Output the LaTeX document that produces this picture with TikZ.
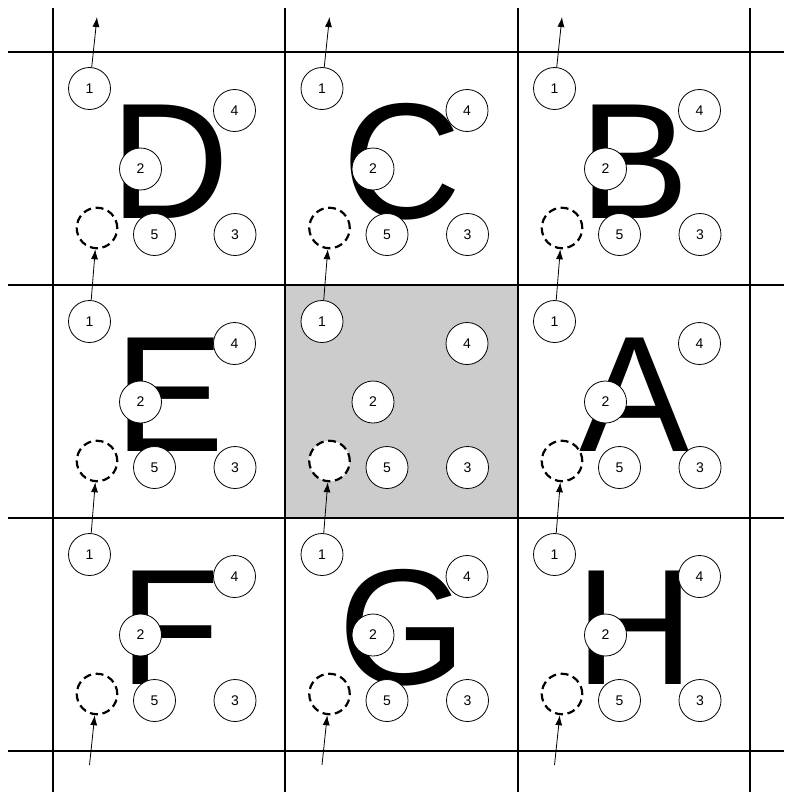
\documentclass[tikz,border=0pt]{standalone}
\usepackage{fontspec}
\setmainfont{Liberation Sans}
\usetikzlibrary{arrows.meta}
\begin{document}
\begin{tikzpicture}[x=1pt,y=-1pt,
  gridline/.style={line width=2pt},
  num/.style={circle, draw, fill=white, line width=0.8pt, minimum size=42pt, inner sep=0pt, font=\fontsize{14}{14}\selectfont},
  ghost/.style={circle, draw, fill=white, dash pattern=on 8pt off 4.6pt, line width=2.2pt, minimum size=40.5pt, inner sep=0pt},
  big/.style={anchor=base, inner sep=0pt, font=\fontsize{165}{165}\selectfont},
  link/.style={-{Latex[length=10pt,width=7pt]}, line width=0.8pt}]
\useasboundingbox (0,0) rectangle (784,792);
\fill[black!20] (285,285) rectangle (518,518);
\foreach \x in {53,285,518,750} \draw[gridline] (\x,8) -- (\x,792);
\foreach \y in {52,285,518,751} \draw[gridline] (8,\y) -- (784,\y);
% letters
\foreach \col/\row/\L in {0/0/D,1/0/C,2/0/B,0/1/E,2/1/A,0/2/F,1/2/G,2/2/H} {
  \pgfmathsetmacro\cx{53+232.5*\col}
  \pgfmathsetmacro\cy{52+233*\row}
  \begin{scope}[shift={(\cx,\cy)}]
    \node[big] (L\col\row) at (117,166) {\L};
  \end{scope}
}
% circles
\foreach \col in {0,1,2} {
  \foreach \row in {0,1,2} {
    \pgfmathsetmacro\cx{53+232.5*\col}
    \pgfmathsetmacro\cy{52+233*\row}
    \begin{scope}[shift={(\cx,\cy)}]
      \node[num] (a\col\row) at (36.5,36.5) {1};
      \node[num] (d\col\row) at (181.5,58.5) {4};
      \node[num] (b\col\row) at (87.5,117) {2};
      \node[ghost] (g\col\row) at (44,176) {};
      \node[num] (e\col\row) at (101.5,182.5) {5};
      \node[num] (c\col\row) at (182,182.5) {3};
    \end{scope}
  }
}
% arrows
\foreach \col in {0,1,2} {
  \pgfmathsetmacro\cx{53+232.5*\col}
  \coordinate (t\col) at (\cx+44,17);
  \coordinate (s\col) at (\cx+36.5,765);
  \draw[link] (a\col0) -- (t\col);
  \draw[link] (a\col1) -- (g\col0);
  \draw[link] (a\col2) -- (g\col1);
  \draw[link] (s\col) -- (g\col2);
}
\end{tikzpicture}
\end{document}
